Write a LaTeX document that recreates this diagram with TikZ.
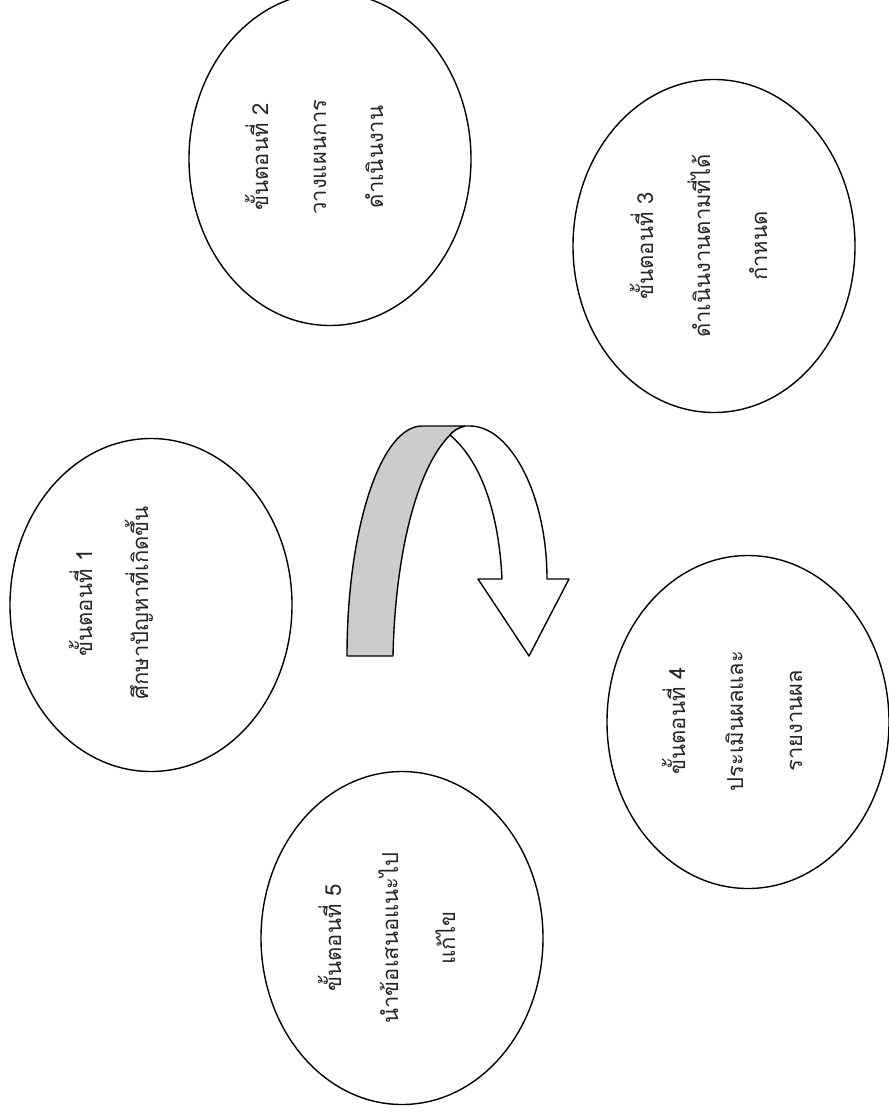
\documentclass[tikz,border=0pt]{standalone}
\usepackage{fontspec}
\newfontfamily\thaifont[Script=Thai]{Loma}
\usetikzlibrary{shapes.geometric}
\begin{document}
\begin{tikzpicture}[x=1pt,y=-1pt,
  bubble/.style={ellipse, draw=black, line width=1.4pt, minimum width=282pt, minimum height=333pt, inner sep=0pt},
  lbl/.style={rotate=90, anchor=base, inner sep=0pt, text=black!85, font=\thaifont\fontsize{22}{26}\selectfont},
  band/.style={draw=black, line width=1.4pt, line join=round}]
\useasboundingbox (0,0) rectangle (888,1118);
% ellipses
\node[bubble] (e1) at (151,605) {};
\node[bubble] (e2) at (330,159) {};
\node[bubble] (e3) at (714,246) {};
\node[bubble] (e4) at (748,722) {};
\node[bubble] (e5) at (402,938) {};
% texts
\node[lbl] (t1a) at (92,603) {ขั้นตอนที่ 1};
\node[lbl] (t1b) at (148,603) {ศึกษาปัญหาที่เกิดขึ้น};
\node[lbl] (t2a) at (268,157) {ขั้นตอนที่ 2};
\node[lbl] (t2b) at (326,157) {วางแผนการ};
\node[lbl] (t2c) at (383,157) {ดำเนินงาน};
\node[lbl] (t3a) at (653,246) {ขั้นตอนที่ 3};
\node[lbl] (t3b) at (710,246) {ดำเนินงานตามที่ได้};
\node[lbl] (t3c) at (767,246) {กำหนด};
\node[lbl] (t4a) at (685,721) {ขั้นตอนที่ 4};
\node[lbl] (t4b) at (743,721) {ประเมินผลและ};
\node[lbl] (t4c) at (802,721) {รายงานผล};
\node[lbl] (t5a) at (341,938) {ขั้นตอนที่ 5};
\node[lbl] (t5b) at (398,938) {นำข้อเสนอแนะไป};
\node[lbl] (t5c) at (455,938) {แก้ไข};
% curved arrow: back (grey) part
\path[band, fill=black!20]
  (347,656) .. controls (347,528) and (381,426) .. (422,426)
  -- (465,426) .. controls (458,428) and (453,431) .. (450,435)
  .. controls (415,470) and (395,560) .. (393,656) -- cycle;
% curved arrow: front (white) part
\path[band, fill=white]
  (450,435) .. controls (453,431) and (458,428) .. (465,426)
  -- (470,426) .. controls (510,426) and (547,494) .. (547,579)
  -- (569,579) -- (529,656) -- (478,579) -- (502,579)
  .. controls (499,515) and (482,462) .. (450,435) -- cycle;
\end{tikzpicture}
\end{document}
